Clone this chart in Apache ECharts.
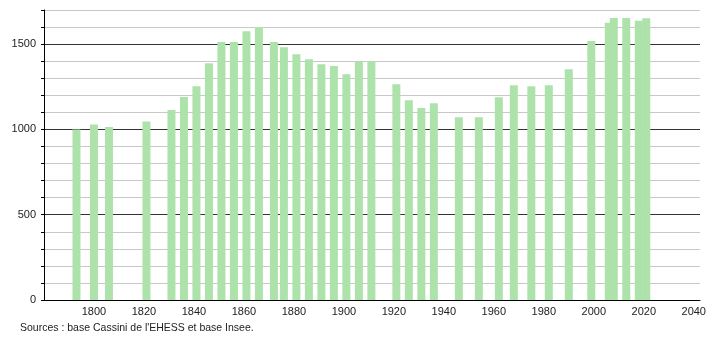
<!DOCTYPE html>
<html>
<head>
<meta charset="utf-8">
<script src="https://cdn.jsdelivr.net/npm/echarts@6/dist/echarts.min.js"></script>
<style>
html,body{margin:0;padding:0;background:#fff;}
#chart{width:710px;height:340px;}
</style>
</head>
<body>
<div id="chart"></div>
<script>
const years = [1793,1800,1806,1821,1831,1836,1841,1846,1851,1856,1861,1866,1872,1876,1881,1886,1891,1896,1901,1906,1911,1921,1926,1931,1936,1946,1954,1962,1968,1975,1982,1990,1999,2006,2008,2013,2018,2021];
const population = [1000,1029,1014,1047,1114,1190,1253,1388,1512,1512,1576,1600,1512,1482,1441,1412,1382,1371,1324,1400,1400,1265,1171,1125,1153,1071,1071,1188,1259,1253,1259,1353,1518,1625,1653,1653,1637,1651];
const sourceText = "Sources : base Cassini de l'EHESS et base Insee.";

const chart = echarts.init(document.getElementById('chart'), null, {renderer:'canvas'});
const fontFamily = '"Liberation Sans", Arial, sans-serif';
chart.setOption({
  animation: false,
  backgroundColor: '#fff',
  grid: {left: 44, right: 10, top: 10, bottom: 40, containLabel: false},
  xAxis: {
    type: 'value',
    min: 1780,
    max: 2042.5,
    interval: 20,
    axisLine: {show: true, lineStyle: {color: '#000', width: 1}},
    axisTick: {show: false},
    splitLine: {show: false},
    axisLabel: {
      showMinLabel: false,
      showMaxLabel: false,
      color: '#222',
      fontSize: 11,
      fontFamily: fontFamily,
      margin: 6,
      formatter: function (v) { return String(v); }
    }
  },
  yAxis: {
    type: 'value',
    min: 0,
    max: 1700,
    interval: 100,
    axisLine: {show: true, lineStyle: {color: '#000', width: 1}},
    axisTick: {show: true, length: 3, lineStyle: {color: '#000'}},
    splitLine: {show: true, lineStyle: {color: ['#333','#c8c8c8','#c8c8c8','#c8c8c8','#c8c8c8'], width: 1}},
    axisLabel: {
      color: '#222',
      fontSize: 11,
      fontFamily: fontFamily,
      margin: 8,
      formatter: function (v) { return v % 500 === 0 ? String(v) : ''; }
    }
  },
  series: [{
    type: 'bar',
    barWidth: 8,
    itemStyle: {color: '#ade3aa'},
    data: years.map((y, i) => [y, population[i]])
  }],
  graphic: [{
    type: 'text',
    left: 20,
    top: 323,
    style: {text: sourceText, fill: '#222', font: '10.5px "Liberation Sans", Arial, sans-serif'}
  }]
});
</script>
</body>
</html>
